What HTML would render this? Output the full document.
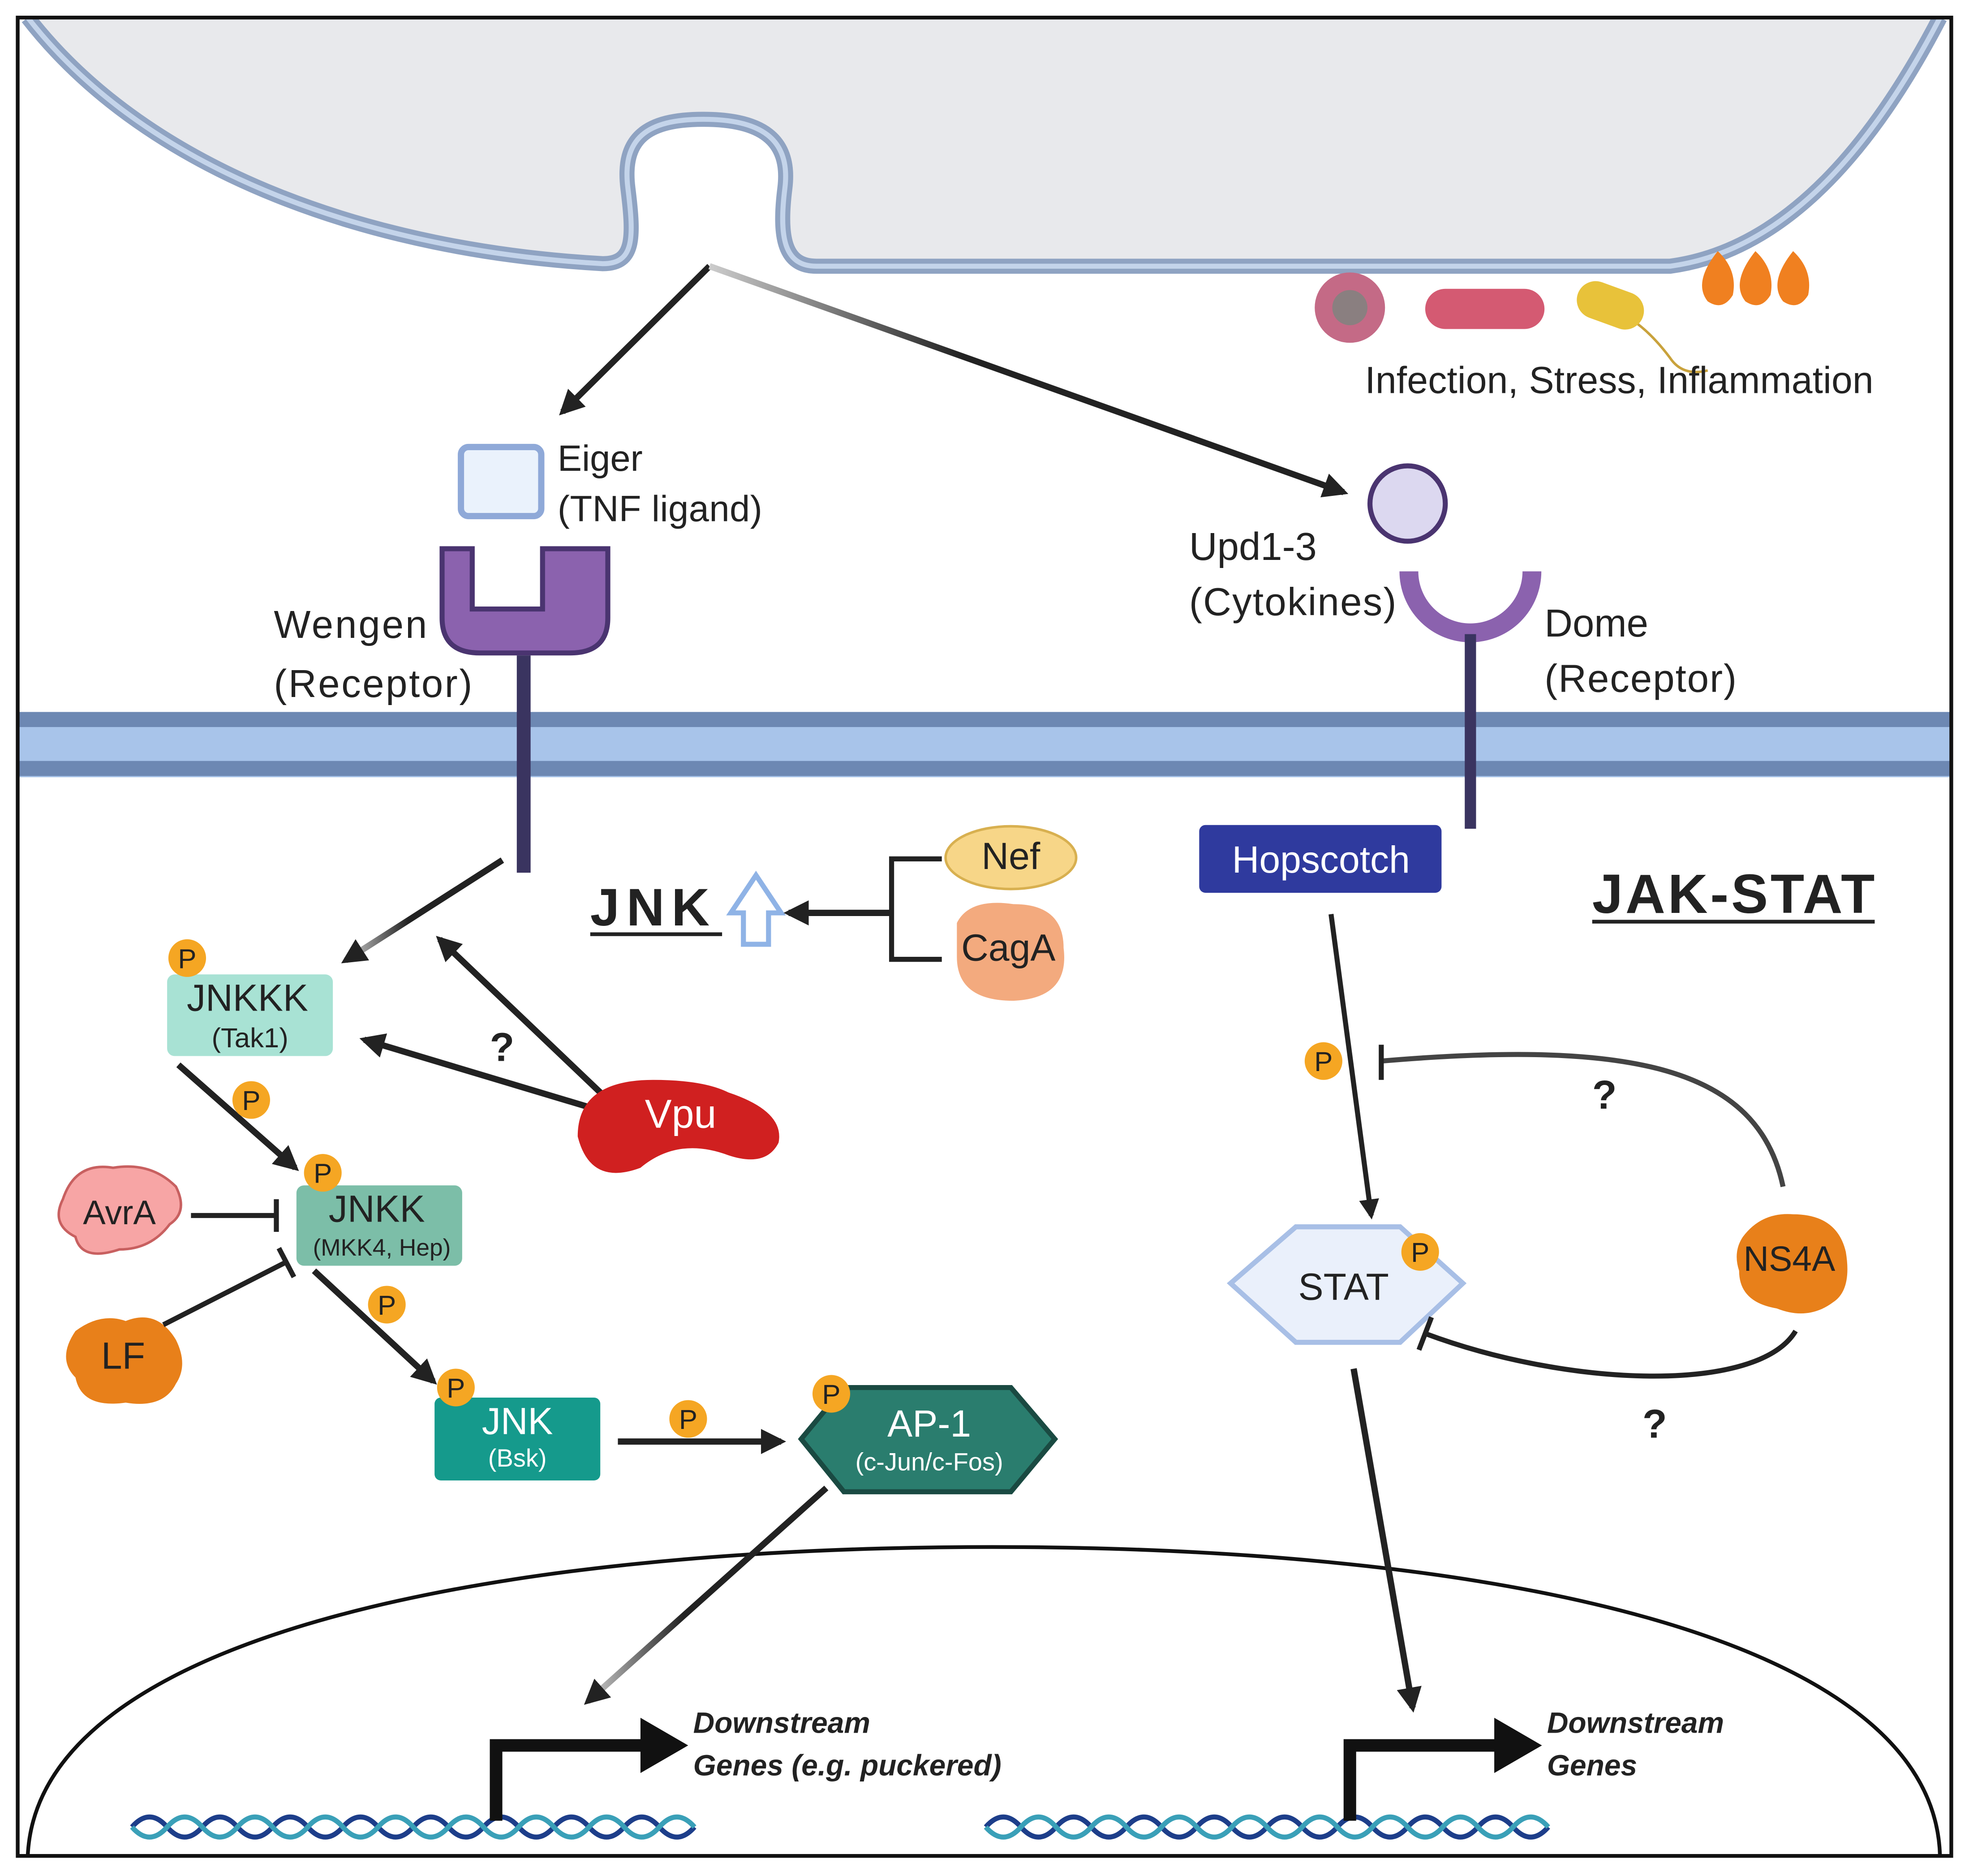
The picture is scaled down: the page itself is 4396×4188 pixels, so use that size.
<!DOCTYPE html>
<html><head><meta charset="utf-8"><style>html,body{margin:0;padding:0;background:#fff}svg{display:block}text{font-family:"Liberation Sans",sans-serif}</style></head><body>
<svg width="4396" height="4188" viewBox="0 0 1568 1494" xmlns="http://www.w3.org/2000/svg">
<defs>
<marker id="ah" viewBox="0 0 10 10" refX="8" refY="5" markerWidth="4" markerHeight="4" orient="auto"><path d="M0,0L10,5L0,10z" fill="#222"/></marker>
<linearGradient id="g1" x1="0" y1="0" x2="1" y2="0"><stop offset="0" stop-color="#ccc"/><stop offset="0.4" stop-color="#222"/></linearGradient>
</defs>
<rect x="0" y="0" width="1568" height="1494" fill="#fff"/>
<!-- top cell -->
<path d="M22,14 C120,140 300,200 480,210 C505,210 505,190 500,150 C495,110 515,95 560,95 C605,95 630,110 625,150 C620,190 625,212 650,212 L1330,212 C1420,200 1490,120 1545,14 Z" fill="#e8e9ec"/>
<path d="M22,14 C120,140 300,200 480,210 C505,210 505,190 500,150 C495,110 515,95 560,95 C605,95 630,110 625,150 C620,190 625,212 650,212 L1330,212 C1420,200 1490,120 1545,14" fill="none" stroke="#8fa3c2" stroke-width="12"/>
<path d="M22,14 C120,140 300,200 480,210 C505,210 505,190 500,150 C495,110 515,95 560,95 C605,95 630,110 625,150 C620,190 625,212 650,212 L1330,212 C1420,200 1490,120 1545,14" fill="none" stroke="#c4d4ea" stroke-width="4"/>
<rect x="0" y="0" width="1568" height="14" fill="#fff"/>
<!-- membrane -->
<rect x="14" y="567" width="1540" height="52" fill="#a8c4ea"/>
<rect x="14" y="567" width="1540" height="12" fill="#6d88b3"/>
<rect x="14" y="606" width="1540" height="12" fill="#6d88b3"/>
<!-- nucleus -->
<path d="M22,1478 C30,1300 400,1232 790,1232 C1180,1232 1540,1300 1545,1478" fill="none" stroke="#111" stroke-width="3"/>
<rect x="14" y="14" width="1540" height="1464" fill="none" stroke="#111" stroke-width="3"/>
<!-- DNA -->
<g fill="none" stroke-width="4">
<path d="M105,1455 q14,-16 28,0 t28,0 t28,0 t28,0 t28,0 t28,0 t28,0 t28,0 t28,0 t28,0 t28,0 t28,0 t28,0 t28,0 t28,0 t28,0" stroke="#1d3e8a"/>
<path d="M105,1455 q14,16 28,0 t28,0 t28,0 t28,0 t28,0 t28,0 t28,0 t28,0 t28,0 t28,0 t28,0 t28,0 t28,0 t28,0 t28,0 t28,0" stroke="#3aa0b8"/>
<path d="M785,1455 q14,-16 28,0 t28,0 t28,0 t28,0 t28,0 t28,0 t28,0 t28,0 t28,0 t28,0 t28,0 t28,0 t28,0 t28,0 t28,0 t28,0" stroke="#1d3e8a"/>
<path d="M785,1455 q14,16 28,0 t28,0 t28,0 t28,0 t28,0 t28,0 t28,0 t28,0 t28,0 t28,0 t28,0 t28,0 t28,0 t28,0 t28,0 t28,0" stroke="#3aa0b8"/>
</g>
<!-- gene arrows -->
<path d="M395,1450 V1390 H515" fill="none" stroke="#111" stroke-width="10"/><path d="M510,1368 L548,1390 L510,1412z" fill="#111"/>
<path d="M1075,1450 V1390 H1195" fill="none" stroke="#111" stroke-width="10"/><path d="M1190,1368 L1228,1390 L1190,1412z" fill="#111"/>
<g font-style="italic" font-weight="bold" font-size="23.5" fill="#222">
<text x="552" y="1380">Downstream</text><text x="552" y="1414">Genes (e.g. puckered)</text>
<text x="1232" y="1380">Downstream</text><text x="1232" y="1414">Genes</text></g>
<!-- top arrows -->
<line x1="565" y1="212" x2="448" y2="328" stroke="#222" stroke-width="5" marker-end="url(#ah)"/>
<line x1="565" y1="212" x2="1070" y2="392" stroke="url(#g1)" stroke-width="5" marker-end="url(#ah)"/>
<!-- pathogens -->
<circle cx="1075" cy="245" r="28" fill="#c46a86"/><circle cx="1075" cy="245" r="14" fill="#8a7f80"/>
<rect x="1135" y="230" width="95" height="32" rx="16" fill="#d45a72"/>
<path d="M1300,255 q15,10 30,30 q10,15 30,10" fill="none" stroke="#c9a23c" stroke-width="2"/>
<rect x="1255" y="228" width="55" height="30" rx="15" fill="#e8c23a" transform="rotate(20 1282 243)"/>
<g fill="#f08020"><path d="M1368,200 q-20,25 -8,40 q12,8 20,-5 q4,-20 -12,-35z"/><path d="M1398,200 q-20,25 -8,40 q12,8 20,-5 q4,-20 -12,-35z"/><path d="M1428,200 q-20,25 -8,40 q12,8 20,-5 q4,-20 -12,-35z"/></g>
<text x="1087" y="313" font-size="30" fill="#222" textLength="405">Infection, Stress, Inflammation</text>
<!-- Eiger -->
<rect x="367" y="356" width="64" height="55" rx="6" fill="#eaf2fc" stroke="#8fa9d8" stroke-width="5"/>
<text x="444" y="375" font-size="29" fill="#222">Eiger</text><text x="444" y="415" font-size="29" fill="#222" textLength="163">(TNF ligand)</text>
<!-- Wengen -->
<path d="M352,437 h24 v48 h56 v-48 h52 v55 q0,28 -30,28 h-72 q-30,0 -30,-28z" fill="#8b62ae" stroke="#4a3470" stroke-width="4"/>
<line x1="417" y1="522" x2="417" y2="695" stroke="#3a3460" stroke-width="11"/>
<text x="218" y="508" font-size="31" fill="#222" textLength="122">Wengen</text><text x="218" y="555" font-size="31" fill="#222" textLength="158">(Receptor)</text>
<!-- Upd / Dome -->
<circle cx="1121" cy="401" r="30" fill="#dcd8f0" stroke="#4a3470" stroke-width="4"/>
<path d="M1122,455 a49,49 0 0 0 98,0" fill="none" stroke="#8b62ae" stroke-width="15"/>
<line x1="1171" y1="505" x2="1171" y2="660" stroke="#3a3460" stroke-width="9"/>
<text x="947" y="446" font-size="31" fill="#222">Upd1-3</text><text x="947" y="490" font-size="31" fill="#222" textLength="165">(Cytokines)</text>
<text x="1230" y="507" font-size="31" fill="#222">Dome</text><text x="1230" y="551" font-size="31" fill="#222" textLength="153">(Receptor)</text>
<!-- JNK header -->
<text x="470" y="737" font-size="42" font-weight="bold" fill="#222" textLength="95">JNK</text><line x1="470" y1="744" x2="575" y2="744" stroke="#222" stroke-width="3"/>
<path d="M592,752 v-25 h-10 l20,-30 l20,30 h-10 v25z" fill="#fff" stroke="#8fb3e6" stroke-width="4"/>
<text x="1268" y="727" font-size="44" font-weight="bold" fill="#222" textLength="225">JAK-STAT</text><line x1="1268" y1="734" x2="1493" y2="734" stroke="#222" stroke-width="3"/>
<line x1="710" y1="727" x2="628" y2="727" stroke="#222" stroke-width="5" marker-end="url(#ah)"/>
<path d="M750,684 H710 V764 H750" fill="none" stroke="#222" stroke-width="4"/>
<ellipse cx="805" cy="683" rx="52" ry="25" fill="#f7d688" stroke="#d8b050" stroke-width="2"/><text x="805" y="692" font-size="30" fill="#222" text-anchor="middle">Nef</text>
<path d="M762,735 q10,-20 45,-15 q40,0 40,35 q5,40 -40,42 q-45,0 -45,-35z" fill="#f3aa7e"/><text x="803" y="765" font-size="30" fill="#222" text-anchor="middle">CagA</text>
<!-- Hopscotch -->
<rect x="955" y="657" width="193" height="54" rx="5" fill="#2f3a9e"/><text x="1052" y="695" font-size="30" fill="#fff" text-anchor="middle">Hopscotch</text>
<!-- JNK cascade -->
<line x1="400" y1="685" x2="275" y2="765" stroke="url(#g1)" stroke-width="5" marker-end="url(#ah)"/>
<line x1="478" y1="870" x2="350" y2="748" stroke="#222" stroke-width="5" marker-end="url(#ah)"/>
<line x1="470" y1="882" x2="290" y2="828" stroke="#222" stroke-width="5" marker-end="url(#ah)"/>
<text x="390" y="845" font-size="32" font-weight="bold" fill="#222">?</text>
<path d="M460,905 q0,-45 60,-45 q40,0 60,10 q45,15 40,40 q-10,20 -40,10 q-40,-15 -70,10 q-40,15 -50,-25z" fill="#d02020"/><text x="542" y="898" font-size="32" fill="#fff" text-anchor="middle">Vpu</text>
<rect x="133" y="776" width="132" height="65" rx="6" fill="#a8e2d4"/><text x="197" y="805" font-size="30" fill="#222" text-anchor="middle">JNKKK</text><text x="199" y="834" font-size="22" fill="#222" text-anchor="middle">(Tak1)</text>
<line x1="142" y1="848" x2="235" y2="930" stroke="#222" stroke-width="5" marker-end="url(#ah)"/>
<rect x="236" y="944" width="132" height="64" rx="6" fill="#7cbea8"/><text x="300" y="973" font-size="30" fill="#222" text-anchor="middle">JNKK</text><text x="304" y="1000" font-size="19" fill="#222" text-anchor="middle">(MKK4, Hep)</text>
<path d="M50,955 q10,-30 40,-25 q30,-5 50,15 q10,20 -5,30 q-15,20 -40,20 q-30,10 -35,-10 q-20,-10 -10,-30z" fill="#f7a5a5" stroke="#c86060" stroke-width="2"/><text x="95" y="975" font-size="27" fill="#222" text-anchor="middle">AvrA</text>
<line x1="152" y1="968" x2="220" y2="968" stroke="#222" stroke-width="4"/><line x1="220" y1="955" x2="220" y2="981" stroke="#222" stroke-width="4"/>
<path d="M60,1060 q20,-15 40,-8 q25,-10 40,15 q10,20 0,35 q-10,20 -40,15 q-35,5 -40,-20 q-15,-15 0,-37z" fill="#e8801a"/><text x="98" y="1090" font-size="30" fill="#222" text-anchor="middle">LF</text>
<line x1="130" y1="1055" x2="228" y2="1005" stroke="#222" stroke-width="4"/><line x1="222" y1="994" x2="234" y2="1017" stroke="#222" stroke-width="4"/>
<line x1="250" y1="1012" x2="345" y2="1100" stroke="#222" stroke-width="5" marker-end="url(#ah)"/>
<rect x="346" y="1113" width="132" height="66" rx="5" fill="#159a8c"/><text x="412" y="1142" font-size="30" fill="#fff" text-anchor="middle">JNK</text><text x="412" y="1168" font-size="20" fill="#fff" text-anchor="middle">(Bsk)</text>
<line x1="492" y1="1148" x2="622" y2="1148" stroke="#222" stroke-width="5" marker-end="url(#ah)"/>
<path d="M638,1146 L672,1105 H805 L840,1146 L805,1188 H672Z" fill="#2a7d6e" stroke="#1a4a42" stroke-width="4"/><text x="740" y="1144" font-size="30" fill="#fff" text-anchor="middle">AP-1</text><text x="740" y="1171" font-size="20" fill="#fff" text-anchor="middle">(c-Jun/c-Fos)</text>
<line x1="658" y1="1185" x2="468" y2="1355" stroke="url(#g1)" stroke-width="5" marker-end="url(#ah)"/>
<!-- JAK-STAT -->
<line x1="1060" y1="728" x2="1092" y2="968" stroke="#222" stroke-width="4" marker-end="url(#ah)"/>
<path d="M980,1022 L1032,977 H1115 L1165,1022 L1115,1069 H1032Z" fill="#eaf0fb" stroke="#a8bfe6" stroke-width="4"/><text x="1070" y="1035" font-size="30" fill="#222" text-anchor="middle">STAT</text>
<path d="M1420,945 C1400,850 1300,828 1100,845" fill="none" stroke="#444" stroke-width="4"/><line x1="1100" y1="832" x2="1100" y2="860" stroke="#222" stroke-width="4"/>
<text x="1268" y="883" font-size="32" font-weight="bold" fill="#222">?</text>
<path d="M1430,1060 C1400,1110 1250,1105 1135,1062" fill="none" stroke="#222" stroke-width="4"/><line x1="1140" y1="1049" x2="1130" y2="1075" stroke="#222" stroke-width="4"/>
<text x="1308" y="1145" font-size="32" font-weight="bold" fill="#222">?</text>
<path d="M1388,985 q15,-20 40,-18 q35,0 42,30 q5,30 -10,40 q-20,15 -45,5 q-30,-5 -30,-30 q-5,-15 3,-27z" fill="#e8801a"/><text x="1425" y="1012" font-size="28" fill="#222" text-anchor="middle">NS4A</text>
<line x1="1078" y1="1090" x2="1125" y2="1360" stroke="#222" stroke-width="5" marker-end="url(#ah)"/>
<!-- P circles -->
<g font-size="22" fill="#222" text-anchor="middle">
<circle cx="149" cy="763" r="15" fill="#f5a623"/><text x="149" y="771">P</text>
<circle cx="200" cy="876" r="15" fill="#f5a623"/><text x="200" y="884">P</text>
<circle cx="257" cy="934" r="15" fill="#f5a623"/><text x="257" y="942">P</text>
<circle cx="308" cy="1039" r="15" fill="#f5a623"/><text x="308" y="1047">P</text>
<circle cx="363" cy="1105" r="15" fill="#f5a623"/><text x="363" y="1113">P</text>
<circle cx="548" cy="1130" r="15" fill="#f5a623"/><text x="548" y="1138">P</text>
<circle cx="662" cy="1110" r="15" fill="#f5a623"/><text x="662" y="1118">P</text>
<circle cx="1054" cy="845" r="15" fill="#f5a623"/><text x="1054" y="853">P</text>
<circle cx="1131" cy="997" r="15" fill="#f5a623"/><text x="1131" y="1005">P</text>
</g>
</svg>
</body></html>
